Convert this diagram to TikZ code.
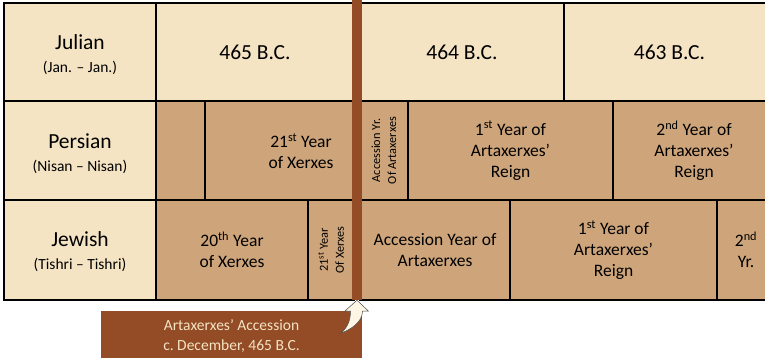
\documentclass[tikz,border=0pt]{standalone}
\usepackage{fontspec}
\setmainfont{Carlito}
\definecolor{jcream}{RGB}{245,228,196}
\definecolor{jtan}{RGB}{206,165,123}
\definecolor{jbrown}{RGB}{147,76,38}
\definecolor{jarrow}{RGB}{253,246,229}

\begin{document}
\begin{tikzpicture}[x=1pt,y=-1pt,
    sz/.style 2 args={minimum width=#1pt, minimum height=#2pt},
    cell/.style={draw=black, line width=2.6pt, inner sep=0pt, align=center},
    pale/.style={cell, fill=jcream},
    dark/.style={cell, fill=jtan},
    calname/.style={align=center, font=\fontsize{15.5}{23}\selectfont},
    big/.style={font=\fontsize{21.5}{24}\selectfont},
    txt/.style={font=\fontsize{17.5}{21}\selectfont, align=center},
    vtxt/.style={rotate=90, font=\fontsize{12.3}{16}\selectfont, align=center}]
  \def\W{765}%
  \def\H{359}%
  \def\ttl{\fontsize{21.5}{24}\selectfont}

  \useasboundingbox (0,0) rectangle (\W,\H);
  \clip (0,0) rectangle (\W,\H);

  %calendar names
  \node[pale, sz={152}{98}] (jul) at (80,52) {};
  \node[pale, sz={152}{99}] (per) at (80,150.5) {};
  \node[pale, sz={152}{100}] (jew) at (80,250) {};
  \node[calname] (julT) at ([yshift=-3pt]jul.center) {{\ttl Julian}\\(Jan. – Jan.)};
  \node[calname] (perT) at ([yshift=-3pt]per.center) {{\ttl Persian}\\(Nisan – Nisan)};
  \node[calname] (jewT) at ([yshift=-2pt]jew.center) {{\ttl Jewish}\\(Tishri – Tishri)};

  %julian years
  \node[pale, big, sz={198}{98}] (y465) at (255,52) {465 B.C.};
  \node[pale, big, sz={204}{98}] (y464) at (462,52) {464 B.C.};
  \node[pale, big, sz={211}{98}] (y463) at (669.5,52) {463 B.C.};

  %persian years
  \node[dark, sz={49}{99}] (pgap) at (180.5,150.5) {};
  \node[dark, sz={149}{99}] (p21) at (279.5,150.5) {};
  \node[txt] (p21t) at (301,151) {21\textsuperscript{st} Year\\of Xerxes};
  \node[dark, sz={48}{99}] (pacc) at (384,150.5) {};
  \node[vtxt] (pacct) at (pacc) {Accession Yr.\\Of Artaxerxes};
  \node[dark, txt, sz={205}{99}] (p1) at (510.5,150.5) {1\textsuperscript{st} Year of\\Artaxerxes’\\Reign};
  \node[dark, txt, sz={162}{99}] (p2) at (694,150.5) {2\textsuperscript{nd} Year of\\Artaxerxes’\\Reign};

  %jewish years
  \node[dark, txt, sz={152}{100}] (j20) at (232,250) {20\textsuperscript{th} Year\\of Xerxes};
  \node[dark, sz={46}{100}] (j21) at (331,250) {};
  \node[vtxt] (j21t) at (j21) {21\textsuperscript{st} Year\\Of Xerxes};
  \node[dark, txt, sz={150}{100}] (jacc) at (435,250) {Accession Year of\\Artaxerxes};
  \node[dark, txt, sz={207}{100}] (j1) at (613.5,250) {1\textsuperscript{st} Year of\\Artaxerxes’\\Reign};
  \node[dark, txt, sz={58}{100}] (j2) at (746,250) {2\textsuperscript{nd}\\Yr.};

  %accession line
  \node[fill=jbrown, inner sep=0pt, sz={10}{300}] (bar) at (357,150) {};
  \node[fill=jbrown, inner sep=0pt, sz={261}{47}, text=jcream,
        font=\fontsize{15.5}{20}\selectfont, align=center] (acc) at (231.5,334.5) {};
  \node[text=jcream, font=\fontsize{15.5}{20}\selectfont, align=center] (accT)
        at ([yshift=-2pt]acc.center) {Artaxerxes’ Accession\\c.\ December, 465 B.C.};
  \coordinate (tail) at (341,333);
  \filldraw[fill=jarrow, draw=black!70, line width=0.5pt]
    (bar.south) -- ++(11.5,11) -- ++(-6,0)
    .. controls +(0,11) and +(9,-3) .. (tail)
    .. controls +(7,-6) and +(0,9) .. (350.5,311) -- ++(-5.5,0) -- cycle;
\end{tikzpicture}
\end{document}
